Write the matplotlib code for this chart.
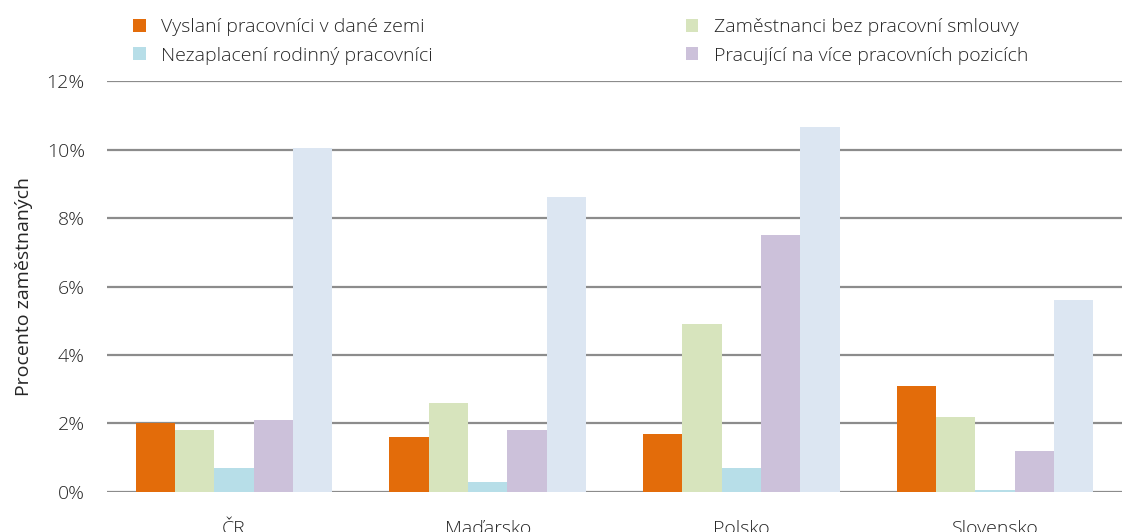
import numpy as np
import matplotlib.pyplot as plt
from matplotlib.ticker import FuncFormatter

plt.rcParams['font.family'] = ['Open Sans', 'DejaVu Sans']
plt.rcParams['font.weight'] = 'light'

# data (procenta)
zeme = ['ČR', 'Maďarsko', 'Polsko', 'Slovensko']
vyslani = [2.0, 1.6, 1.7, 3.1]
bez_smlouvy = [1.8, 2.6, 4.9, 2.2]
rodinni = [0.7, 0.3, 0.7, 0.05]
vice_pozic = [2.1, 1.8, 7.5, 1.2]
celkem = [10.05, 8.6, 10.65, 5.6]

serie = [vyslani, bez_smlouvy, rodinni, vice_pozic, celkem]
nazvy = ['Vyslaní pracovníci v dané zemi', 'Zaměstnanci bez pracovní smlouvy',
         'Nezaplacení rodinný pracovníci', 'Pracující na více pracovních pozicích', None]
barvy = ['#E36C0A', '#D7E4BD', '#B7DEE8', '#CCC1DA', '#DCE6F2']

fig = plt.figure(figsize=(11.22, 5.32), dpi=100)
ax = fig.add_axes([0.0954, 0.0752, 0.9046, 0.7725])

x = np.arange(len(zeme))
w = 0.155
bary = {}
for i, (s, c) in enumerate(zip(serie, barvy)):
    b = ax.bar(x + (i - 2) * w, s, w, color=c, zorder=3)
    if nazvy[i]:
        bary[i] = b

ax.set_xlim(-0.5, 3.5)
ax.set_ylim(0, 12)
ax.set_yticks(np.arange(0, 13, 2))
ax.yaxis.set_major_formatter(FuncFormatter(lambda v, p: f'{v:.0f}%'))
ax.grid(axis='y', color='#8c8c8c', lw=1.6, zorder=0)
for s in ['top', 'right', 'left', 'bottom']:
    ax.spines[s].set_visible(False)
ax.tick_params(length=0, labelsize=14, colors='#262626')
ax.tick_params(axis='y', pad=16)
ax.set_xticks(x)
ax.set_xticklabels(zeme)
ax.tick_params(axis='x', pad=20)
ax.set_ylabel('Procento zaměstnaných', fontsize=14, color='#262626', labelpad=10)

poradi = [0, 2, 1, 3]
leg = fig.legend([bary[i] for i in poradi], [nazvy[i] for i in poradi],
                 ncol=2, loc='upper left', bbox_to_anchor=(0.103, 0.999),
                 frameon=False, fontsize=14, handlelength=0.65, handleheight=0.65,
                 handletextpad=0.8, columnspacing=13.0, labelspacing=0.55)
for t in leg.get_texts():
    t.set_color('#262626')

fig.savefig('out.png', dpi=100)
